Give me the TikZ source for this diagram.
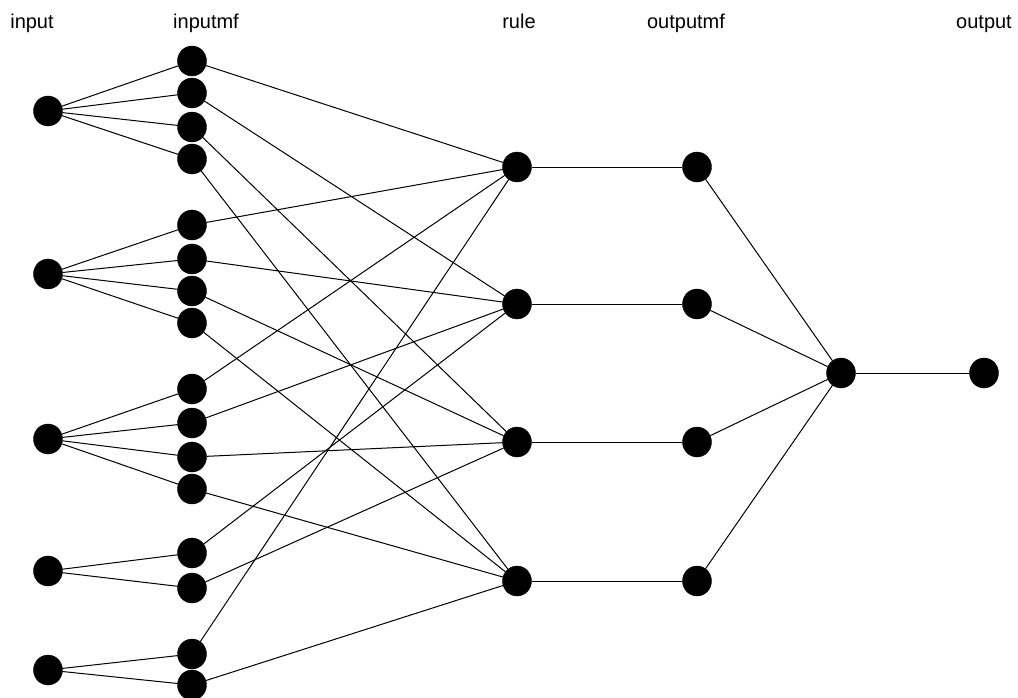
\documentclass[tikz,border=0pt]{standalone}
\usepackage{fontspec}
\setmainfont{Liberation Sans}
\usetikzlibrary{shapes.geometric}
\begin{document}
\begin{tikzpicture}[x=1pt,y=-1pt,
  neuron/.style={ellipse,fill=black,draw=black,inner sep=0pt,minimum width=29pt,minimum height=30pt},
  layerlabel/.style={anchor=base,inner sep=0pt,font=\fontsize{20}{22}\selectfont},
  link/.style={draw=black,line width=1pt}]
\useasboundingbox (0,0) rectangle (1018,697);

% layer titles
\node[layerlabel] (tin)   at (32,28)  {input};
\node[layerlabel] (tmf)   at (206,28) {inputmf};
\node[layerlabel] (trule) at (519,28) {rule};
\node[layerlabel] (tomf)  at (686,28) {outputmf};
\node[layerlabel] (tout)  at (984,28) {output};

% input layer
\node[neuron] (in1) at (48,111) {};
\node[neuron] (in2) at (48,274) {};
\node[neuron] (in3) at (48,439) {};
\node[neuron] (in4) at (48,571) {};
\node[neuron] (in5) at (48,670) {};

% input membership functions
\foreach \i/\y in {1/61,2/93,3/127,4/159,5/225,6/259,7/291,8/323,
                   9/389,10/423,11/457,12/489,13/553,14/588,15/654,16/685}
  \node[neuron] (mf\i) at (192,\y) {};

% rules and output membership functions
\foreach \i/\y in {1/167,2/304,3/442,4/581}{
  \node[neuron] (r\i) at (517,\y) {};
  \node[neuron] (om\i) at (697,\y) {};
}

% aggregation and output
\node[neuron] (agg) at (841,373) {};
\node[neuron] (out) at (984,373) {};

% inputs to their membership functions
\foreach \m in {1,2,3,4}   \draw[link] (in1) -- (mf\m);
\foreach \m in {5,6,7,8}   \draw[link] (in2) -- (mf\m);
\foreach \m in {9,10,11,12} \draw[link] (in3) -- (mf\m);
\foreach \m in {13,14}     \draw[link] (in4) -- (mf\m);
\foreach \m in {15,16}     \draw[link] (in5) -- (mf\m);

% membership functions to rules
\foreach \m/\r in {1/1,5/1,9/1,15/1,
                   2/2,6/2,10/2,13/2,
                   3/3,7/3,11/3,14/3,
                   4/4,8/4,12/4,16/4}
  \draw[link] (mf\m) -- (r\r);

% rules to output membership functions to aggregation
\foreach \r in {1,2,3,4}{
  \draw[link] (r\r) -- (om\r);
  \draw[link] (om\r) -- (agg);
}
\draw[link] (agg) -- (out);
\end{tikzpicture}
\end{document}
